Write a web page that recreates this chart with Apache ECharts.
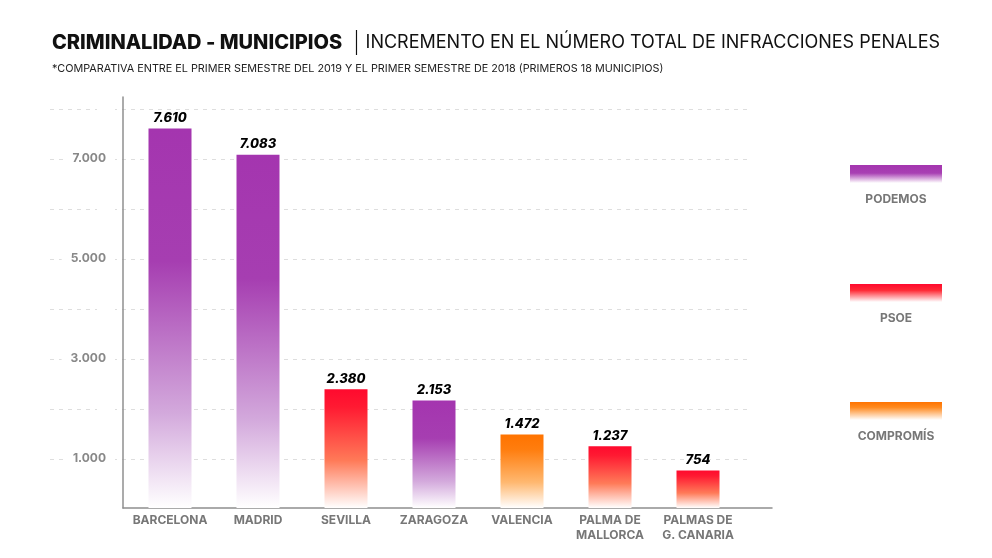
<!DOCTYPE html>
<html>
<head>
<meta charset="utf-8">
<script src="https://cdn.jsdelivr.net/npm/echarts@6/dist/echarts.min.js"></script>
<style>html,body{margin:0;padding:0;background:#fff}#c{width:992px;height:558px}</style>
</head>
<body>
<div id="c"></div>
<script>
const categories = ['BARCELONA', 'MADRID', 'SEVILLA', 'ZARAGOZA', 'VALENCIA', 'PALMA DE\nMALLORCA', 'PALMAS DE\nG. CANARIA'];
const values = [7610, 7083, 2380, 2153, 1472, 1237, 754];
const parties = ['PODEMOS', 'PODEMOS', 'PSOE', 'PODEMOS', 'COMPROMÍS', 'PSOE', 'PSOE'];
const legendNames = ['PODEMOS', 'PSOE', 'COMPROMÍS'];
const yTickLabels = [1000, 3000, 5000, 7000];
const titleMain = 'CRIMINALIDAD - MUNICIPIOS';
const titleRest = 'INCREMENTO EN EL NÚMERO TOTAL DE INFRACCIONES PENALES';
const subtitle = '*COMPARATIVA ENTRE EL PRIMER SEMESTRE DEL 2019 Y EL PRIMER SEMESTRE DE 2018 (PRIMEROS 18 MUNICIPIOS)';

const FONT = 'Inter';
const partyStops = {
  'PODEMOS': [[0, '#a435af'], [0.35, '#a63eb1'], [0.75, '#d3a9dc'], [1, '#ffffff']],
  'PSOE': [[0, '#ff0a2e'], [0.15, '#ff1a32'], [0.6, '#ff7a58'], [1, '#ffffff']],
  'COMPROMÍS': [[0, '#ff7300'], [0.2, '#ff7d0e'], [0.65, '#ffb870'], [1, '#ffffff']]
};
function grad(p) {
  return new echarts.graphic.LinearGradient(0, 0, 0, 1,
    partyStops[p].map(s => ({ offset: s[0], color: s[1] })));
}
const legendStops = {
  'PODEMOS': [[0, '#a435af'], [0.45, '#a83fb3'], [1, '#ffffff']],
  'PSOE': [[0, '#ff0a2e'], [0.35, '#ff2a35'], [1, '#ffffff']],
  'COMPROMÍS': [[0, '#ff7300'], [0.3, '#ff8a1f'], [1, '#ffffff']]
};
function lgrad(p) {
  return new echarts.graphic.LinearGradient(0, 0, 0, 1,
    legendStops[p].map(s => ({ offset: s[0], color: s[1] })));
}
function fmt(v) { return String(v).replace(/\B(?=(\d{3})+(?!\d))/g, '.'); }

const chart = echarts.init(document.getElementById('c'));

const legendGraphics = [];
const legendY = [165, 284, 402];
legendNames.forEach((n, i) => {
  legendGraphics.push({
    type: 'rect', shape: { x: 850, y: legendY[i], width: 92, height: 18 },
    style: { fill: lgrad(n) }
  });
  legendGraphics.push({
    type: 'text', x: 896, y: legendY[i] + 34,
    style: { text: n, font: 'bold 12px ' + FONT, fill: '#777', align: 'center', verticalAlign: 'middle' }
  });
});

chart.setOption({
  animation: false,
  backgroundColor: '#fff',
  title: {
    left: 52, top: 30, padding: 0,
    text: '{a|' + titleMain + '}{s||}{b|' + titleRest + '}',
    textStyle: {
      rich: {
        a: { fontFamily: FONT, fontWeight: 800, fontSize: 20, color: '#111' },
        s: { fontFamily: 'DejaVu Sans', fontWeight: 200, fontSize: 25, color: '#111', padding: [0, 5, 0, 10] },
        b: { fontFamily: FONT, fontWeight: 400, fontSize: 18, color: '#111' }
      }
    },
    subtext: subtitle,
    itemGap: 8,
    subtextStyle: { fontFamily: FONT, fontSize: 10.8, color: '#222' }
  },
  graphic: legendGraphics,
  grid: [
    { left: 126, right: 250, top: 109, bottom: 50 },
    { left: 50, right: 242, top: 109, bottom: 99 },
    { left: 123, right: 220, top: 97, bottom: 50 }
  ],
  xAxis: [
    {
      type: 'category', gridIndex: 0, data: categories,
      axisLine: { show: false }, axisTick: { show: false },
      axisLabel: { margin: 5, fontFamily: FONT, fontWeight: 'bold', fontSize: 12, color: '#777', lineHeight: 15, interval: 0 }
    },
    { type: 'value', gridIndex: 1, min: 0, max: 1, show: false },
    {
      type: 'value', gridIndex: 2, min: 0, max: 1,
      axisLine: { show: true, lineStyle: { color: '#8f8f8f', width: 1.5 } },
      axisTick: { show: false }, axisLabel: { show: false }, splitLine: { show: false }
    }
  ],
  yAxis: [
    {
      type: 'value', gridIndex: 0, min: 0, max: 8000, interval: 1000, z: 5,
      axisLine: { show: false }, axisTick: { show: false }, splitLine: { show: false },
      axisLabel: {
        margin: 11, fontFamily: FONT, fontWeight: 'bold', fontSize: 12, color: '#888',
        backgroundColor: '#fff', padding: [2, 9, 2, 9],
        formatter: v => yTickLabels.indexOf(v) >= 0 ? fmt(v) : ''
      }
    },
    {
      type: 'value', gridIndex: 1, min: 1000, max: 8000, interval: 1000, z: 0,
      axisLine: { show: false }, axisTick: { show: false }, axisLabel: { show: false },
      splitLine: { show: true, lineStyle: { color: '#dedede', type: [4, 5], width: 1 } }
    },
    {
      type: 'value', gridIndex: 2, min: 0, max: 1,
      axisLine: { show: true, lineStyle: { color: '#8f8f8f', width: 1.5 } },
      axisTick: { show: false }, axisLabel: { show: false }, splitLine: { show: false }
    }
  ],
  series: [{
    type: 'bar', xAxisIndex: 0, yAxisIndex: 0, barWidth: 43, z: 3,
    data: values.map((v, i) => ({ value: v, itemStyle: { color: grad(parties[i]) } })),
    label: {
      show: true, position: 'top', distance: 4,
      fontFamily: FONT, fontWeight: 800, fontStyle: 'italic', fontSize: 13, color: '#000',
      formatter: p => fmt(p.value)
    }
  }]
});
</script>
</body>
</html>
